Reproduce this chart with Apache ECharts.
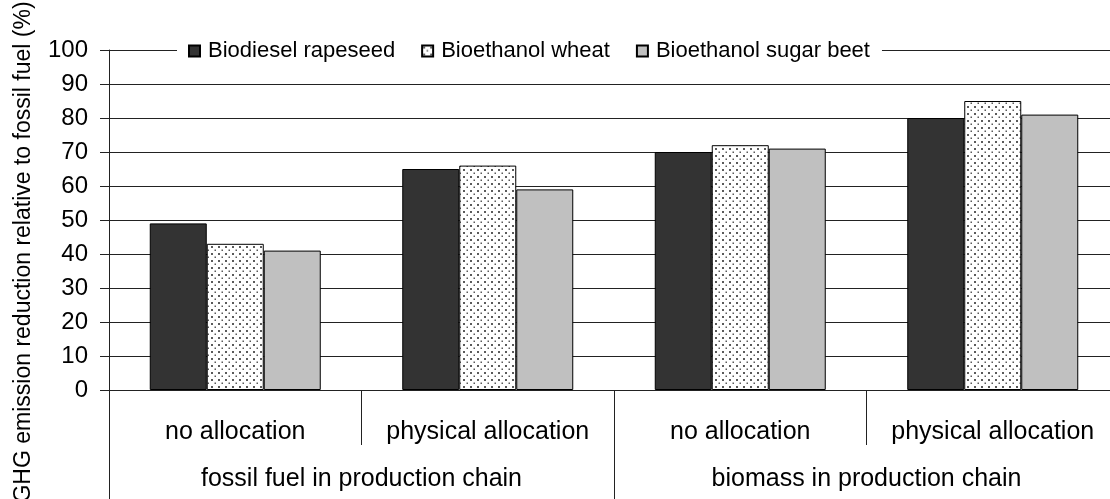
<!DOCTYPE html>
<html>
<head>
<meta charset="utf-8">
<script src="https://cdn.jsdelivr.net/npm/echarts@6/dist/echarts.min.js"></script>
<style>
html,body{margin:0;padding:0;background:#fff;}
#chart{width:1110px;height:499px;}
</style>
</head>
<body>
<div id="chart"></div>
<script>
const subCategories = ['no allocation', 'physical allocation', 'no allocation', 'physical allocation'];
const groupCategories = ['fossil fuel in production chain', 'biomass in production chain'];
const seriesNames = ['Biodiesel rapeseed', 'Bioethanol wheat', 'Bioethanol sugar beet'];
const biodieselRapeseed = [49, 65, 70, 80];
const bioethanolWheat = [43, 66, 72, 85];
const bioethanolSugarBeet = [41, 59, 71, 81];
const yTicks = [0, 10, 20, 30, 40, 50, 60, 70, 80, 90, 100];
const yTitle = 'GHG emission reduction relative to fossil fuel (%)';

const FONT = '"Liberation Sans", Arial, sans-serif';

// dotted pattern
const pat = document.createElement('canvas');
pat.width = 7; pat.height = 7;
const pc = pat.getContext('2d');
pc.fillStyle = '#fff'; pc.fillRect(0, 0, 7, 7);
pc.fillStyle = '#5a5a5a';
pc.fillRect(1, 1, 2, 2);
pc.fillRect(4.5, 4.5, 1.5, 1.5);

const chart = echarts.init(document.getElementById('chart'), null, {renderer: 'canvas'});
const colors = ['#333333', {image: pat, repeat: 'repeat'}, '#c0c0c0'];
const dataSets = [biodieselRapeseed, bioethanolWheat, bioethanolSugarBeet];

chart.setOption({
  animation: false,
  backgroundColor: '#fff',
  grid: {left: 109, top: 50, width: 1010, height: 340, containLabel: false, outerBoundsMode: 'none'},
  legend: {
    left: 177, top: 39,
    padding: [1, 12, 1, 11],
    backgroundColor: '#fff',
    itemWidth: 11, itemHeight: 11, itemGap: 26,
    icon: 'rect',
    textStyle: {fontFamily: FONT, fontSize: 22, color: '#000', padding: [0, 0, 0, 3]},
    data: seriesNames
  },
  xAxis: [{
    type: 'category',
    data: subCategories,
    position: 'bottom',
    axisLine: {show: true, lineStyle: {color: '#222', width: 1}},
    axisTick: {show: true, length: 55, interval: 0, lineStyle: {color: '#222'}},
    axisLabel: {interval: 0, margin: 30, fontFamily: FONT, fontSize: 25, color: '#000'},
    splitLine: {show: false}
  }, {
    type: 'category',
    data: groupCategories,
    position: 'bottom',
    axisLine: {show: false},
    axisTick: {show: true, length: 109, interval: 0, lineStyle: {color: '#222'}},
    axisLabel: {interval: 0, margin: 77, fontFamily: FONT, fontSize: 25, color: '#000'},
    splitLine: {show: false}
  }],
  yAxis: {
    type: 'value',
    min: yTicks[0], max: yTicks[yTicks.length - 1], interval: 10,
    axisLine: {show: true, lineStyle: {color: '#222'}},
    axisTick: {show: true, length: 9, inside: false, lineStyle: {color: '#222'}},
    axisLabel: {margin: 21, fontFamily: FONT, fontSize: 24, color: '#000'},
    splitLine: {show: true, lineStyle: {color: '#222', width: 1}}
  },
  graphic: [{
    type: 'text',
    x: 24, y: 252,
    rotation: Math.PI / 2,
    style: {text: yTitle, fontFamily: FONT, fontSize: 23, fill: '#000', align: 'center', verticalAlign: 'middle'}
  }],
  series: seriesNames.map((name, i) => ({
    name: name,
    type: 'bar',
    xAxisIndex: 0,
    data: dataSets[i],
    barWidth: 57,
    barGap: '0%',
    itemStyle: {color: colors[i], borderColor: '#000', borderWidth: 1}
  }))
});
</script>
</body>
</html>
